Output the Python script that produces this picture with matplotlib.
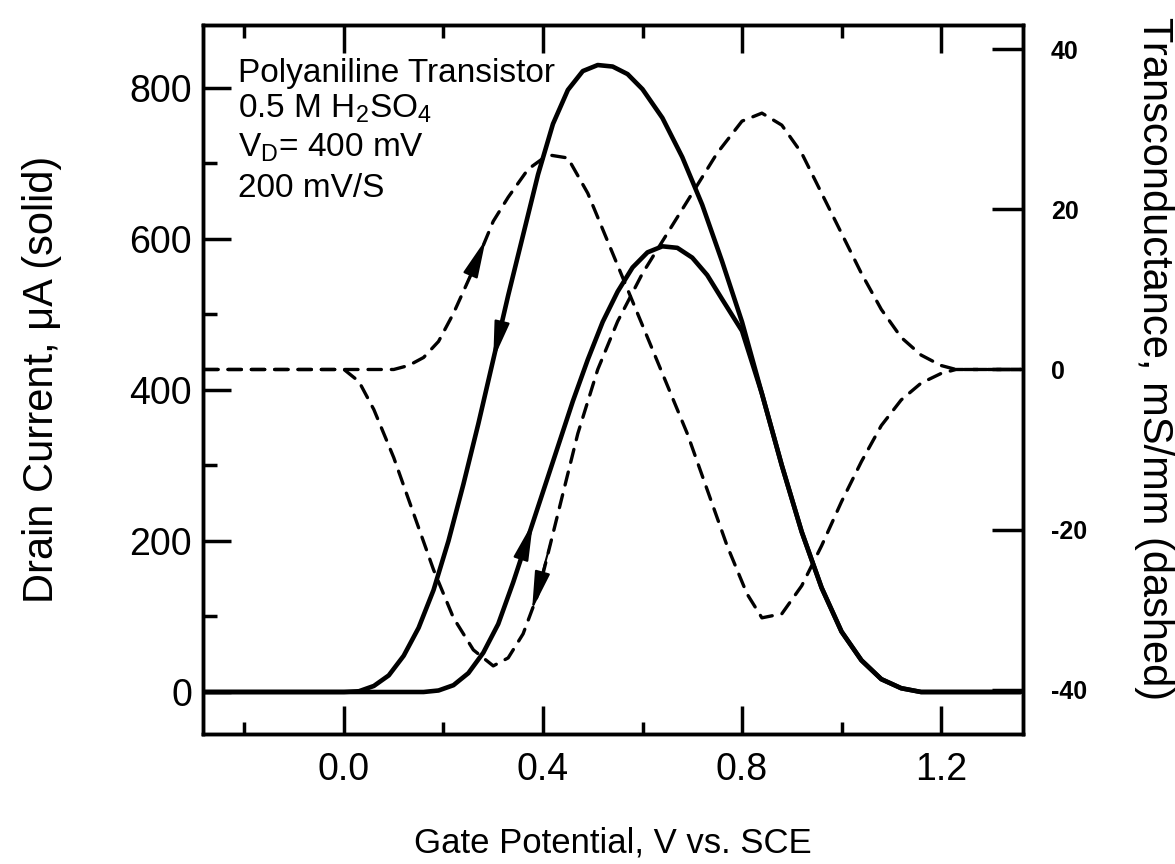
import numpy as np
import matplotlib
matplotlib.use("Agg")
import matplotlib.pyplot as plt

# ---------------- data ----------------
# Solid curves: drain current (uA) vs gate potential (V)
va = [-0.28, 0.00, 0.03, 0.06, 0.09, 0.12, 0.15, 0.18, 0.21, 0.24, 0.27, 0.30, 0.33,
      0.36, 0.39, 0.42, 0.45, 0.48, 0.51, 0.54, 0.57, 0.60, 0.64, 0.68, 0.72, 0.76,
      0.80, 0.84, 0.88, 0.92, 0.96, 1.00, 1.04, 1.08, 1.12, 1.16, 1.36]
ia = [0, 0, 1, 8, 22, 48, 85, 135, 200, 275, 355, 440, 525,
      605, 685, 752, 797, 822, 830, 828, 818, 798, 760, 708, 645, 570,
      490, 395, 300, 212, 138, 80, 42, 17, 5, 0, 0]

vb = [-0.28, 0.16, 0.19, 0.22, 0.25, 0.28, 0.31, 0.34, 0.37, 0.40, 0.43, 0.46, 0.49,
      0.52, 0.55, 0.58, 0.61, 0.64, 0.67, 0.70, 0.73, 0.76, 0.80, 0.84, 0.88, 0.92,
      0.96, 1.00, 1.04, 1.08, 1.12, 1.16, 1.36]
ib = [0, 0, 2, 9, 25, 52, 90, 145, 205, 265, 325, 385, 440,
      490, 530, 562, 582, 590, 588, 575, 552, 520, 478, 395, 300, 212,
      138, 80, 42, 17, 5, 0, 0]

# Dashed curves: transconductance (mS/mm) vs gate potential (V)
gxa = [-0.28, 0.00, 0.03, 0.06, 0.10, 0.14, 0.18, 0.22, 0.26, 0.30, 0.33, 0.36, 0.39,
       0.43, 0.47, 0.51, 0.55, 0.60, 0.65, 0.70, 0.75, 0.80, 0.84, 0.88, 0.92, 0.96,
       1.00, 1.04, 1.08, 1.12, 1.16, 1.20, 1.23, 1.36]
gva = [0, 0, -1.5, -5, -11, -18, -25, -31, -35, -37, -36, -33, -28,
       -18, -8, 0, 6, 12, 17, 22, 27, 31, 32, 30.5, 27, 22,
       17, 12, 7.5, 4, 1.8, 0.5, 0, 0]

gxb = [-0.28, 0.10, 0.13, 0.16, 0.19, 0.22, 0.26, 0.30, 0.33, 0.37, 0.41, 0.45, 0.49,
       0.53, 0.57, 0.61, 0.65, 0.69, 0.73, 0.77, 0.81, 0.84, 0.88, 0.92, 0.96, 1.00,
       1.04, 1.08, 1.12, 1.16, 1.20, 1.23, 1.36]
gvb = [0, 0, 0.5, 1.5, 3.5, 7, 12.5, 18.5, 21.5, 25, 26.8, 26.4, 22,
       16, 10, 4, -2, -8, -15, -22, -28, -31, -30.5, -27, -22, -16.5,
       -11.5, -7, -3.8, -1.7, -0.5, 0, 0]

x_ticks = [0.0, 0.4, 0.8, 1.2]
x_ticklabels = ["0.0", "0.4", "0.8", "1.2"]
x_minor = [-0.2, 0.2, 0.6, 1.0]
yl_ticks = [0, 200, 400, 600, 800]
yl_ticklabels = ["0", "200", "400", "600", "800"]
yl_minor = [100, 300, 500, 700]
yr_ticks = [-40, -20, 0, 20, 40]
yr_ticklabels = ["-40", "-20", "0", "20", "40"]

annot_lines = ["Polyaniline Transistor", r"0.5 M H$_2$SO$_4$",
               r"V$_\mathrm{D}$= 400 mV", "200 mV/S"]

# arrows: (which curve, x start, x end)
arrows = [("ia", 0.335, 0.300), ("ib", 0.345, 0.380),
          ("gb", 0.245, 0.285), ("ga", 0.415, 0.378)]

# ---------------- style ----------------
plt.rcParams["font.family"] = ["Liberation Sans", "DejaVu Sans"]
plt.rcParams["mathtext.fontset"] = "custom"
plt.rcParams["mathtext.rm"] = "Liberation Sans"
plt.rcParams["mathtext.it"] = "Liberation Sans:italic"
plt.rcParams["mathtext.bf"] = "Liberation Sans:bold"

fig = plt.figure(figsize=(11.75, 8.64), dpi=100)
ax = fig.add_axes([203 / 1175, 130 / 864, 820 / 1175, 709 / 864])
ax2 = ax.twinx()

ax.plot(va, ia, color="black", lw=3.3, solid_joinstyle="round", solid_capstyle="round", zorder=3)
ax.plot(vb, ib, color="black", lw=3.3, solid_joinstyle="round", solid_capstyle="round", zorder=3)
ax2.plot(gxa, gva, color="black", lw=2.4, linestyle=(0, (4, 3)), dash_capstyle="round")
ax2.plot(gxb, gvb, color="black", lw=2.4, linestyle=(0, (4, 3)), dash_capstyle="round")

ax.set_xlim(-0.2834, 1.3648)
ax.set_ylim(-55.6, 883)
ax2.set_ylim(-45.5, 43.0)

curves = {"ia": (ax, va, ia), "ib": (ax, vb, ib), "ga": (ax2, gxa, gva), "gb": (ax2, gxb, gvb)}
for name, x0, x1 in arrows:
    a, xs, ys = curves[name]
    y0 = np.interp(x0, xs, ys)
    y1 = np.interp(x1, xs, ys)
    a.annotate("", xy=(x1, y1), xytext=(x0, y0),
               arrowprops=dict(arrowstyle="-|>,head_length=1.6,head_width=0.32",
                               mutation_scale=15, color="black", lw=1.5,
                               shrinkA=0, shrinkB=0), zorder=5)

ax.set_xticks(x_ticks)
ax.set_xticklabels(x_ticklabels)
ax.set_xticks(x_minor, minor=True)
ax.set_yticks(yl_ticks)
ax.set_yticklabels(yl_ticklabels)
ax.set_yticks(yl_minor, minor=True)
ax2.set_yticks(yr_ticks)
ax2.set_yticklabels(yr_ticklabels, fontweight="bold")

ax.tick_params(axis="x", which="major", direction="in", length=20, width=2.5,
               top=True, labelsize=27, pad=13)
ax.tick_params(axis="x", which="minor", direction="in", length=9, width=2.5, top=True)
ax.tick_params(axis="y", which="major", direction="in", length=20, width=2.5,
               right=False, labelsize=27, pad=8)
ax.tick_params(axis="y", which="minor", direction="in", length=10, width=2.5, right=False)
ax2.tick_params(axis="y", which="major", direction="in", length=22, width=2.5,
                labelsize=18, pad=20)

for a in (ax, ax2):
    for s in a.spines.values():
        s.set_linewidth(2.5)

ax.set_xlabel("Gate Potential, V vs. SCE", fontsize=25, labelpad=28)
ax.set_ylabel("Drain Current, μA (solid)", fontsize=30)
ax.yaxis.set_label_coords(-0.172, 0.5)
ax2.set_ylabel("Transconductance, mS/mm (dashed)", fontsize=30, rotation=270,
               va="bottom", ha="center", rotation_mode="anchor")
ax2.yaxis.set_label_coords(1.135, 0.53)

base_y = [0.9196, 0.8688, 0.8138, 0.7574]
for txt, yy in zip(annot_lines, base_y):
    ax.text(0.043, yy, txt, transform=ax.transAxes, fontsize=24, va="baseline", ha="left")

fig.savefig("out.png", dpi=100, facecolor="white")
